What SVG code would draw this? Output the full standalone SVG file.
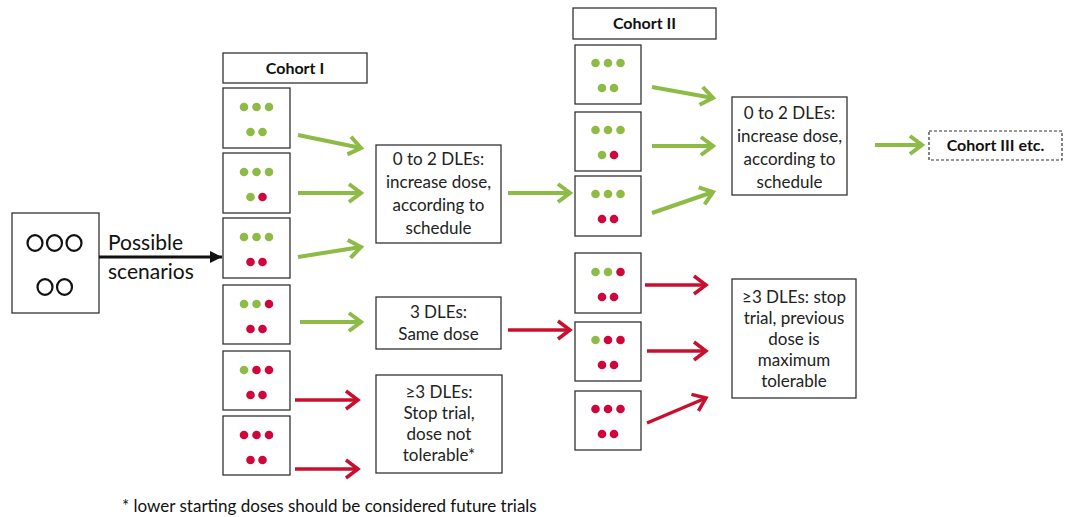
<svg xmlns="http://www.w3.org/2000/svg" width="1065" height="517" viewBox="0 0 1065 517">
  <style>
    .box { fill: #fff; stroke: #333; stroke-width: 1.3; }
    .dash { fill: #fff; stroke: #333; stroke-width: 1.2; stroke-dasharray: 3 2; }
    .t { font-family: Lato, "Open Sans", sans-serif; font-size: 17px; fill: #222; text-anchor: middle; }
    .h { font-family: Lato, "Open Sans", sans-serif; font-size: 16px; font-weight: bold; fill: #111; text-anchor: middle; }
    .g { fill: #8dbb46; }
    .r { fill: #d0063a; }
    .ga { stroke: #8dbb46; stroke-width: 4; fill: none; marker-end: url(#hg); }
    .ra { stroke: #c8102e; stroke-width: 3.5; fill: none; marker-end: url(#hr); }
    .o { fill: none; stroke: #111; stroke-width: 2.2; }
  </style>
  <defs>
    <marker id="hg" markerUnits="userSpaceOnUse" markerWidth="22" markerHeight="24" refX="16" refY="12" orient="auto" overflow="visible">
      <path d="M4,3 L16,12 L4,21" fill="none" stroke="#8dbb46" stroke-width="4" stroke-linejoin="miter"/>
    </marker>
    <marker id="hr" markerUnits="userSpaceOnUse" markerWidth="22" markerHeight="24" refX="16" refY="12" orient="auto" overflow="visible">
      <path d="M4,3 L16,12 L4,21" fill="none" stroke="#c8102e" stroke-width="3.5" stroke-linejoin="miter"/>
    </marker>
    <marker id="hb" markerUnits="userSpaceOnUse" markerWidth="14" markerHeight="14" refX="12" refY="7" orient="auto">
      <path d="M0,1 L12,7 L0,13 Z" fill="#111"/>
    </marker>
  </defs>

  <!-- starting cohort of five patients -->
  <g id="start">
    <rect class="box" x="12" y="213" width="87" height="100"/>
    <ellipse class="o" cx="35" cy="243" rx="7.5" ry="7.8"/>
    <ellipse class="o" cx="54.5" cy="243" rx="7.5" ry="7.8"/>
    <ellipse class="o" cx="74" cy="243" rx="7.5" ry="7.8"/>
    <ellipse class="o" cx="45" cy="287" rx="7.5" ry="7.8"/>
    <ellipse class="o" cx="64.5" cy="287" rx="7.5" ry="7.8"/>
  </g>

  <!-- Cohort I -->
  <g id="cohort1-header">
    <rect class="box" x="223" y="53" width="144" height="30"/>
    <text class="h" x="295" y="74">Cohort I</text>
  </g>
  <g id="c1-s1">
    <rect class="box" x="223" y="88" width="67" height="60"/>
    <circle class="g" cx="244" cy="107" r="4.3"/><circle class="g" cx="256.5" cy="107" r="4.3"/><circle class="g" cx="269" cy="107" r="4.3"/>
    <circle class="g" cx="250.5" cy="132" r="4.3"/><circle class="g" cx="262.5" cy="132" r="4.3"/>
  </g>
  <g id="c1-s2">
    <rect class="box" x="223" y="153" width="67" height="60"/>
    <circle class="g" cx="244" cy="172" r="4.3"/><circle class="g" cx="256.5" cy="172" r="4.3"/><circle class="g" cx="269" cy="172" r="4.3"/>
    <circle class="g" cx="250.5" cy="197" r="4.3"/><circle class="r" cx="262.5" cy="197" r="4.3"/>
  </g>
  <g id="c1-s3">
    <rect class="box" x="223" y="218" width="67" height="60"/>
    <circle class="g" cx="244" cy="237" r="4.3"/><circle class="g" cx="256.5" cy="237" r="4.3"/><circle class="g" cx="269" cy="237" r="4.3"/>
    <circle class="r" cx="250.5" cy="262" r="4.3"/><circle class="r" cx="262.5" cy="262" r="4.3"/>
  </g>
  <g id="c1-s4">
    <rect class="box" x="223" y="285" width="67" height="59"/>
    <circle class="g" cx="244" cy="304" r="4.3"/><circle class="g" cx="256.5" cy="304" r="4.3"/><circle class="r" cx="269" cy="304" r="4.3"/>
    <circle class="r" cx="250.5" cy="329" r="4.3"/><circle class="r" cx="262.5" cy="329" r="4.3"/>
  </g>
  <g id="c1-s5">
    <rect class="box" x="223" y="351" width="67" height="59"/>
    <circle class="g" cx="244" cy="370" r="4.3"/><circle class="r" cx="256.5" cy="370" r="4.3"/><circle class="r" cx="269" cy="370" r="4.3"/>
    <circle class="r" cx="250.5" cy="395" r="4.3"/><circle class="r" cx="262.5" cy="395" r="4.3"/>
  </g>
  <g id="c1-s6">
    <rect class="box" x="223" y="416" width="67" height="59"/>
    <circle class="r" cx="244" cy="435" r="4.3"/><circle class="r" cx="256.5" cy="435" r="4.3"/><circle class="r" cx="269" cy="435" r="4.3"/>
    <circle class="r" cx="250.5" cy="460" r="4.3"/><circle class="r" cx="262.5" cy="460" r="4.3"/>
  </g>

  <!-- Cohort I outcomes -->
  <g id="c1-increase">
    <rect class="box" x="376" y="145" width="125" height="98"/>
    <text class="t" x="438.5" y="165">0 to 2 DLEs:</text>
    <text class="t" x="438.5" y="188">increase dose,</text>
    <text class="t" x="438.5" y="211">according to</text>
    <text class="t" x="438.5" y="234">schedule</text>
  </g>
  <g id="c1-same">
    <rect class="box" x="376" y="297" width="125" height="52"/>
    <text class="t" x="438.5" y="318">3 DLEs:</text>
    <text class="t" x="438.5" y="340">Same dose</text>
  </g>
  <g id="c1-stop">
    <rect class="box" x="376" y="375" width="126" height="98"/>
    <text class="t" x="439" y="398">≥3 DLEs:</text>
    <text class="t" x="439" y="419">Stop trial,</text>
    <text class="t" x="439" y="440">dose not</text>
    <text class="t" x="439" y="461">tolerable*</text>
  </g>

  <!-- Cohort II -->
  <g id="cohort2-header">
    <rect class="box" x="573" y="8" width="143" height="31"/>
    <text class="h" x="644.5" y="29">Cohort II</text>
  </g>
  <g id="c2-s1">
    <rect class="box" x="575" y="45" width="66" height="59"/>
    <circle class="g" cx="595.5" cy="63" r="4.3"/><circle class="g" cx="608" cy="63" r="4.3"/><circle class="g" cx="620.5" cy="63" r="4.3"/>
    <circle class="g" cx="602" cy="88" r="4.3"/><circle class="g" cx="614" cy="88" r="4.3"/>
  </g>
  <g id="c2-s2">
    <rect class="box" x="575" y="112" width="66" height="59"/>
    <circle class="g" cx="595.5" cy="130" r="4.3"/><circle class="g" cx="608" cy="130" r="4.3"/><circle class="g" cx="620.5" cy="130" r="4.3"/>
    <circle class="g" cx="602" cy="155" r="4.3"/><circle class="r" cx="614" cy="155" r="4.3"/>
  </g>
  <g id="c2-s3">
    <rect class="box" x="575" y="176" width="66" height="60"/>
    <circle class="g" cx="595.5" cy="194" r="4.3"/><circle class="g" cx="608" cy="194" r="4.3"/><circle class="g" cx="620.5" cy="194" r="4.3"/>
    <circle class="r" cx="602" cy="219" r="4.3"/><circle class="r" cx="614" cy="219" r="4.3"/>
  </g>
  <g id="c2-s4">
    <rect class="box" x="575" y="253" width="66" height="60"/>
    <circle class="g" cx="595.5" cy="272" r="4.3"/><circle class="g" cx="608" cy="272" r="4.3"/><circle class="r" cx="620.5" cy="272" r="4.3"/>
    <circle class="r" cx="602" cy="297" r="4.3"/><circle class="r" cx="614" cy="297" r="4.3"/>
  </g>
  <g id="c2-s5">
    <rect class="box" x="575" y="322" width="66" height="59"/>
    <circle class="g" cx="595.5" cy="340" r="4.3"/><circle class="r" cx="608" cy="340" r="4.3"/><circle class="r" cx="620.5" cy="340" r="4.3"/>
    <circle class="r" cx="602" cy="365" r="4.3"/><circle class="r" cx="614" cy="365" r="4.3"/>
  </g>
  <g id="c2-s6">
    <rect class="box" x="575" y="391" width="66" height="59"/>
    <circle class="r" cx="595.5" cy="409" r="4.3"/><circle class="r" cx="608" cy="409" r="4.3"/><circle class="r" cx="620.5" cy="409" r="4.3"/>
    <circle class="r" cx="602" cy="434" r="4.3"/><circle class="r" cx="614" cy="434" r="4.3"/>
  </g>

  <!-- Cohort II outcomes -->
  <g id="c2-increase">
    <rect class="box" x="732" y="97" width="115" height="98"/>
    <text class="t" x="789.5" y="119">0 to 2 DLEs:</text>
    <text class="t" x="789.5" y="142">increase dose,</text>
    <text class="t" x="789.5" y="165">according to</text>
    <text class="t" x="789.5" y="188">schedule</text>
  </g>
  <g id="c2-stop">
    <rect class="box" x="732" y="279" width="124" height="119"/>
    <text class="t" x="794" y="303">≥3 DLEs: stop</text>
    <text class="t" x="794" y="324">trial, previous</text>
    <text class="t" x="794" y="345">dose is</text>
    <text class="t" x="794" y="366">maximum</text>
    <text class="t" x="794" y="387">tolerable</text>
  </g>
  <g id="cohort3">
    <rect class="dash" x="929" y="131" width="133" height="29"/>
    <text class="h" x="995.5" y="151">Cohort III etc.</text>
  </g>

  <!-- connectors -->
  <g id="connectors">
    <line x1="99" y1="257" x2="222" y2="257" stroke="#111" stroke-width="3" marker-end="url(#hb)"/>
    <path class="ga" d="M298,135 L361,148"/>
    <path class="ga" d="M298,193 L361,193"/>
    <path class="ga" d="M298,257 L361,247"/>
    <path class="ga" d="M300,322 L361,322"/>
    <path class="ra" d="M295,400 L358,400"/>
    <path class="ra" d="M295,469 L358,469"/>
    <path class="ga" d="M508,193 L570,193"/>
    <path class="ra" d="M508,330 L570,330"/>
    <path class="ga" d="M652,87 L713,98"/>
    <path class="ga" d="M652,146 L713,146"/>
    <path class="ga" d="M652,213 L713,192"/>
    <path class="ra" d="M645,285 L706,285"/>
    <path class="ra" d="M647,351 L706,351"/>
    <path class="ra" d="M647,423 L706,398"/>
    <path class="ga" d="M875,145 L922,145"/>
  </g>

  <!-- labels -->
  <text x="108" y="250" font-family="Lato, 'Open Sans', sans-serif" font-size="21" fill="#111">Possible</text>
  <text x="108" y="279" font-family="Lato, 'Open Sans', sans-serif" font-size="21" fill="#111">scenarios</text>
  <text x="122" y="512" font-family="Lato, 'Open Sans', sans-serif" font-size="17" fill="#111">* lower starting doses should be considered future trials</text>
</svg>
